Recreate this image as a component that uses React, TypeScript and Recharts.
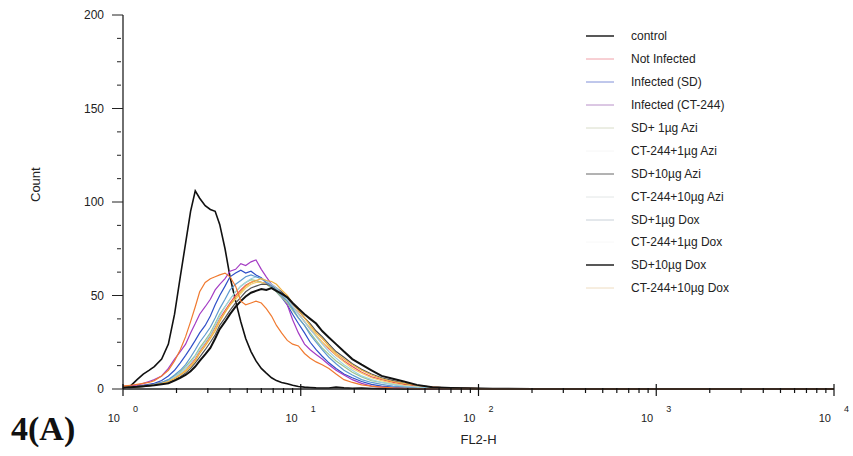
import React from 'react';
import { LineChart, Line, XAxis, YAxis } from 'recharts';

// FL2-H channel positions (log scale)
const fl2 = [
  1, 1.1, 1.2, 1.3, 1.4, 1.5, 1.65, 1.8, 1.95, 2.1, 2.25, 2.4, 2.55, 2.7, 2.9, 3.1, 3.3, 3.5, 3.75, 4,
  4.3, 4.6, 4.9, 5.25, 5.6, 6, 6.4, 6.85, 7.3, 7.8, 8.4, 9, 9.7, 10.5, 11.3, 12.2, 13.2, 14.4, 15.8, 17.5,
  19.5, 22, 25, 28.5, 33, 38, 45, 55, 70, 90, 120, 200, 1000, 10000,
];

const control = [
  0.5, 1.5, 5, 8, 10, 12, 16, 24, 40, 60, 78, 95, 106, 102, 98, 96, 95, 88, 75, 60,
  47, 36, 27, 20, 15, 11, 8.5, 6, 4.5, 3.5, 2.8, 2, 1.3, 1, 0.8, 0.6, 0.5, 0.5, 1, 0.6,
  0.4, 0.5, 0.3, 0.2, 0.1, 0, 0, 0, 0, 0, 0, 0, 0, 0,
];
const notInfected = [
  1.5, 1.5, 1.8, 2, 2.2, 2.8, 3.5, 4.5, 6, 8, 10, 13, 16, 20, 24, 28.5, 33, 37.5, 42, 46,
  50, 53, 55.5, 57, 58, 57, 56.5, 56, 54, 51, 48.5, 44, 40.5, 36, 32, 28.5, 25, 21.5, 18, 15,
  12, 9, 6.5, 5, 3.5, 2.5, 1.5, 1, 0.5, 0.3, 0.1, 0, 0, 0,
];
const infectedSD = [
  1, 1.2, 1.5, 2, 2.5, 3, 4.5, 7, 10, 14, 18, 22, 26, 30, 34, 39, 45, 50, 55, 60,
  62, 63.5, 62, 63, 61, 59.5, 57, 55, 52, 49, 45, 40, 35, 30, 25, 21, 17.5, 14, 11, 8,
  6, 4, 2.5, 1.5, 1, 0.6, 0.3, 0.2, 0, 0, 0, 0, 0, 0,
];
const infectedCT = [
  1, 1.5, 2, 3, 4, 5, 7, 11, 16, 20, 24, 30, 35, 40, 44, 48, 53, 56, 59, 63,
  64, 67, 66, 68, 69, 64, 60, 56, 53.5, 50, 45, 37, 30, 24, 21, 18.5, 16, 13, 10, 7.5,
  5, 3, 1.5, 1, 0.5, 0.3, 0.2, 0, 0, 0, 0, 0, 0, 0,
];
const sd1Azi = [
  1, 1, 1.2, 1.5, 2, 2.5, 3.5, 5, 7, 9, 12, 15, 18, 22, 26, 30, 35, 40, 44, 48,
  52, 55, 57, 58.5, 58, 57, 56, 54, 52, 49, 46, 42, 38, 34, 30, 26, 22, 18.5, 15, 12,
  9, 6.5, 4.5, 3.5, 2.5, 1.5, 1, 0.5, 0.2, 0, 0, 0, 0, 0,
];
const ct1Azi = [
  1, 1.2, 1.4, 1.6, 2, 2.4, 3.2, 4.2, 5.8, 7.8, 10, 12.5, 15.5, 19.5, 23.5, 27.5, 32, 37, 41, 45,
  48, 51, 54, 56, 57, 57, 56, 55, 53, 50, 47, 44, 40, 36, 33, 29, 25, 22, 18, 14.5,
  11, 8.5, 6, 4.5, 3, 2, 1.2, 0.6, 0.3, 0, 0, 0, 0, 0,
];
const sd10Azi = [
  1, 1, 1, 1.3, 1.6, 2, 2.8, 3.5, 5, 6.5, 8.5, 11, 14, 17, 21, 25, 29, 34, 38, 42,
  46, 49, 52, 54, 55, 56, 56, 55, 54, 52, 49, 45.5, 42, 38, 35, 31, 28, 24, 20, 17,
  13.5, 10.5, 8, 6, 4.5, 3, 2, 1, 0.5, 0.2, 0, 0, 0, 0,
];
const ct10Azi = [
  1, 1, 1.2, 1.5, 1.8, 2.3, 3, 4.5, 6.5, 8.5, 11, 14, 17.5, 21, 25, 29, 34, 39, 44, 48,
  52, 55, 57, 59, 60, 59, 58, 56, 54, 51, 48, 44, 40, 36, 32, 28, 24, 20, 16.5, 13,
  10, 7, 5, 3.5, 2.5, 1.5, 1, 0.5, 0.2, 0, 0, 0, 0, 0,
];
const sd1Dox = [
  1, 1, 1.3, 1.6, 2, 2.5, 3.5, 5, 7.5, 10, 13, 17, 21, 25, 29, 33, 38, 43, 48, 53,
  56, 58, 60, 61, 60, 59, 57, 55, 53, 50, 47, 43, 38, 34, 29, 25, 21, 17, 13.5, 10,
  7.5, 5, 3.5, 2.5, 1.5, 1, 0.5, 0.3, 0.1, 0, 0, 0, 0, 0,
];
const ct1Dox = [
  1, 1, 1.2, 1.4, 1.8, 2.2, 3, 4, 5.5, 7.5, 9.5, 12, 15, 19, 23, 27, 31, 36, 41, 45,
  49, 52, 55, 57, 58, 59, 58, 57.5, 56, 53, 50, 46, 42, 38, 34, 30, 27, 23, 19, 16,
  13, 10, 7.5, 5.5, 4, 3, 2, 1, 0.5, 0.3, 0.1, 0, 0, 0,
];
const sd10Dox = [
  1, 1, 1.2, 1.5, 1.8, 2, 2.5, 3, 4.5, 6, 7.5, 9.5, 12, 15, 18.5, 22, 27, 32, 36, 40,
  44, 47, 49.5, 51.5, 52.5, 53.5, 53, 54, 52.5, 51, 49, 46, 43, 40, 37.5, 35, 31, 27.5, 24, 20,
  16, 13, 10, 7, 5.5, 4, 2.2, 1, 0.6, 0.4, 0.2, 0, 0, 0,
];
const ct10Dox = [
  1.5, 2, 2.5, 3, 3.5, 4.5, 7, 10, 15, 21, 28, 36, 44, 52, 57, 59, 60, 61, 62, 60,
  55, 47, 45, 46, 47, 46, 43, 39, 34, 30, 26, 24, 23, 19, 16.5, 14.5, 13, 11, 8, 5,
  3.5, 2.2, 1.5, 1, 0.6, 0.4, 0.2, 0.1, 0, 0, 0, 0, 0, 0,
];

const seriesNames = [
  'control', 'Not Infected', 'Infected (SD)', 'Infected (CT-244)', 'SD+ 1µg Azi', 'CT-244+1µg Azi',
  'SD+10µg Azi', 'CT-244+10µg Azi', 'SD+1µg Dox', 'CT-244+1µg Dox', 'SD+10µg Dox', 'CT-244+10µg Dox',
];
const seriesValues = [
  control, notInfected, infectedSD, infectedCT, sd1Azi, ct1Azi,
  sd10Azi, ct10Azi, sd1Dox, ct1Dox, sd10Dox, ct10Dox,
];
const seriesColors = [
  '#111111', '#e84a5a', '#2f4fc8', '#a43cc4', '#9cc48c', '#f2d070',
  '#555555', '#9fd2e0', '#5d9ad0', '#f0b040', '#111111', '#f07a30',
];
const legendColors = [
  '#111111', '#f0a0a8', '#8090d8', '#b890c8', '#d8dcc8', '#f6f6f6',
  '#666666', '#e2e6e6', '#c8d0d8', '#f8f8f8', '#111111', '#eedcc0',
];
const seriesWidths = [1.6, 1.2, 1.2, 1.2, 1.2, 1.2, 1.2, 1.2, 1.2, 1.2, 2, 1.2];

const majorTicks = [1, 10, 100, 1000, 10000];
const countTicks = [0, 50, 100, 150, 200];

const xTicks: number[] = [];
majorTicks.forEach((d, i) => {
  xTicks.push(d);
  if (i < majorTicks.length - 1) for (let m = 2; m <= 9; m++) xTicks.push(d * m);
});
const yTicks: number[] = [];
for (let v = 0; v <= 200; v += 12.5) yTicks.push(v);

const data = fl2.map((x, i) => {
  const row: Record<string, number> = { x };
  seriesNames.forEach((n, s) => {
    row[n] = seriesValues[s][i];
  });
  return row;
});

const font = '"Liberation Sans", Arial, sans-serif';

const XTick = (props: any) => {
  const { x, y, payload } = props;
  const v = payload.value;
  const major = majorTicks.includes(v);
  const exp = Math.round(Math.log10(v));
  return (
    <g>
      <path d={major ? `M${x},${y - 13}V${y - 1}` : `M${x},${y - 9}V${y - 4}`} stroke="#111" strokeWidth={1.2} fill="none" />
      {major && (
        <text fontFamily={font} fontSize={11} fill="#222">
          <tspan x={x - 3} y={y + 25} textAnchor="end">10</tspan>
          <tspan x={x + 10} y={y + 15} fontSize={9}>{exp}</tspan>
        </text>
      )}
    </g>
  );
};

const YTick = (props: any) => {
  const { x, y, payload } = props;
  const major = countTicks.includes(payload.value);
  return (
    <g>
      <path d={major ? `M${x - 3},${y}H${x + 8}` : `M${x + 2},${y}H${x + 6}`} stroke="#222" strokeWidth={1} fill="none" />
      {major && (
        <text x={x - 11} y={y + 4} textAnchor="end" fontFamily={font} fontSize={12} fill="#222">
          {payload.value}
        </text>
      )}
    </g>
  );
};

const ChartLegend = () => (
  <div style={{ position: 'absolute', left: 583, top: 25, fontFamily: font, fontSize: 12, color: '#222' }}>
    {seriesNames.map((n, i) => (
      <div key={n} style={{ display: 'flex', alignItems: 'center', height: 22.9 }}>
        <svg width={48} height={10}>
          <line x1={3} x2={31} y1={5} y2={5} stroke={legendColors[i]} strokeWidth={i === 0 || i === 10 ? 1.4 : 1} />
        </svg>
        <span>{n}</span>
      </div>
    ))}
  </div>
);

export default function App() {
  return (
    <div style={{ position: 'absolute', left: 0, top: 0, width: 853, height: 456, background: '#fff' }}>
      <LineChart width={853} height={456} data={data} margin={{ top: 15, right: 19, left: 0, bottom: 0 }}>
        <XAxis
          dataKey="x"
          type="number"
          scale="log"
          domain={[1, 10000]}
          ticks={xTicks}
          interval={0}
          allowDataOverflow
          height={67}
          axisLine={{ stroke: '#222', strokeWidth: 1.3 }}
          tickLine={false}
          tick={<XTick />}
          label={{ value: 'FL2-H', position: 'insideBottom', offset: 12, fontFamily: font, fontSize: 13, fill: '#222' }}
        />
        <XAxis xAxisId="top" orientation="top" dataKey="x" type="number" height={0} tick={false} tickLine={false} axisLine={{ stroke: '#666', strokeWidth: 1.3 }} />
        <YAxis
          type="number"
          domain={[0, 200]}
          ticks={yTicks}
          interval={0}
          width={123}
          axisLine={{ stroke: '#222', strokeWidth: 1.3 }}
          tickLine={false}
          tick={<YTick />}
          label={{ value: 'Count', angle: -90, position: 'insideLeft', offset: 35, fontFamily: font, fontSize: 13, fill: '#222' }}
        />
        <YAxis yAxisId="right" orientation="right" width={0} tick={false} tickLine={false} axisLine={{ stroke: '#666', strokeWidth: 1.3 }} />
        {seriesNames.map((n, i) => (
          <Line
            key={n}
            dataKey={n}
            name={n}
            type="linear"
            stroke={seriesColors[i]}
            strokeWidth={seriesWidths[i]}
            dot={false}
            isAnimationActive={false}
          />
        ))}
      </LineChart>
      <ChartLegend />
      <div
        style={{
          position: 'absolute',
          left: 11,
          top: 410,
          fontFamily: '"Liberation Serif", "Times New Roman", serif',
          fontWeight: 'bold',
          fontSize: 34,
          color: '#111',
        }}
      >
        4(A)
      </div>
    </div>
  );
}
